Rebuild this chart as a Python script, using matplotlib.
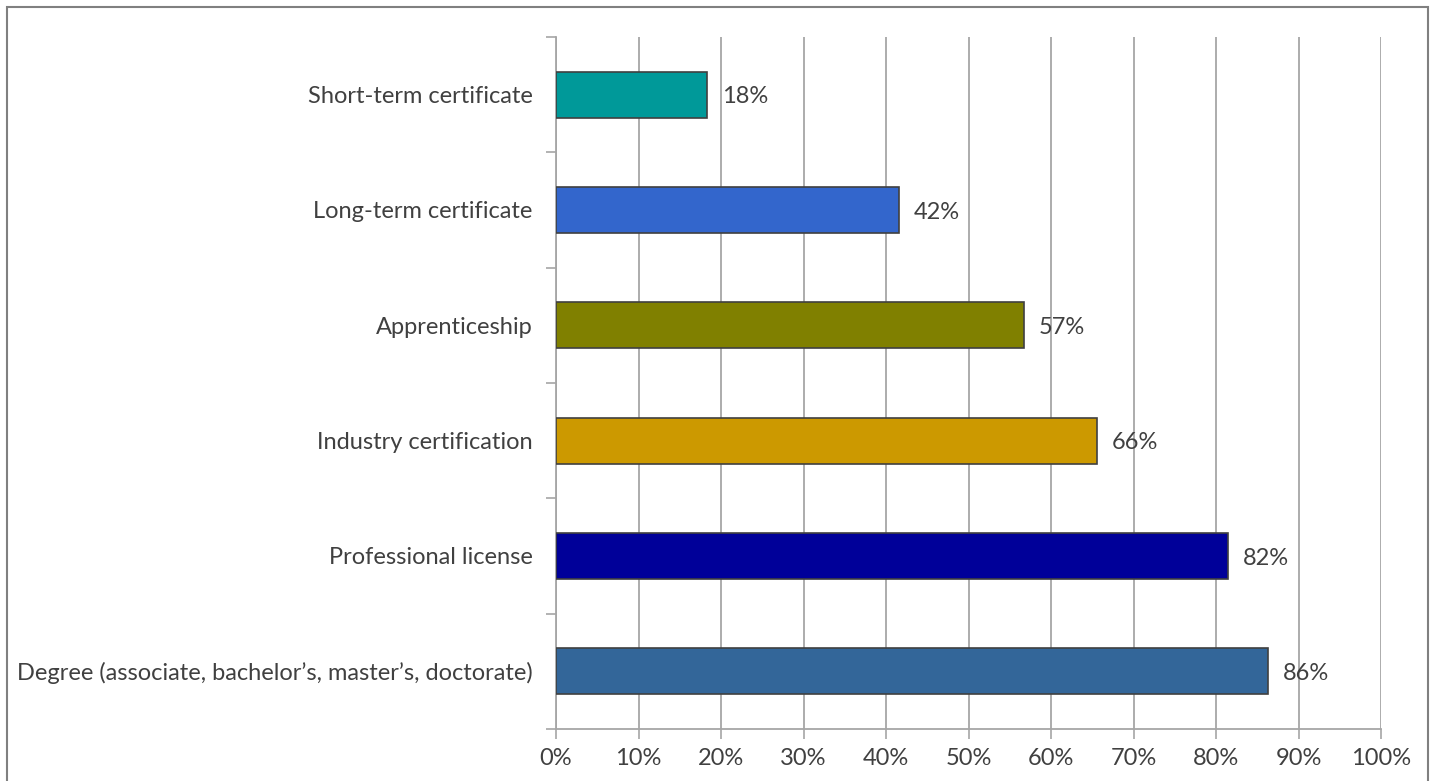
import matplotlib.pyplot as plt
from matplotlib.patches import Rectangle
from matplotlib.ticker import MultipleLocator, FuncFormatter

categories = ['Degree (associate, bachelor\u2019s, master\u2019s, doctorate)',
              'Professional license',
              'Industry certification',
              'Apprenticeship',
              'Long-term certificate',
              'Short-term certificate']
shares = [86.3, 81.5, 65.6, 56.7, 41.6, 18.3]
colors = ['#336699', '#000099', '#CC9900', '#808000', '#3366CC', '#009999']

plt.rcParams['font.family'] = ['Lato', 'DejaVu Sans']

W, H = 1434, 781
fig = plt.figure(figsize=(W / 100, H / 100), dpi=100)
ax = fig.add_axes([556 / W, 1 - 729 / H, (1381 - 556) / W, (729 - 37) / H])

pos = list(range(len(categories)))
ax.barh(pos, shares, height=0.4, color=colors, edgecolor='#404040', linewidth=1.2, zorder=3)
for y, v in zip(pos, shares):
    ax.text(v + 1.8, y - 0.02, f'{v:.0f}%', va='center', ha='left', fontsize=17, color='#404040')

ax.set_xlim(0, 100)
ax.set_ylim(-0.5, len(categories) - 0.5)
ax.xaxis.set_major_locator(MultipleLocator(10))
ax.xaxis.set_major_formatter(FuncFormatter(lambda x, _: f'{x:.0f}%'))
ax.grid(axis='x', color='#a6a6a6', linewidth=1.3, zorder=0)

# category labels sit between the boundary ticks
ax.set_yticks([p - 0.5 for p in pos] + [len(pos) - 0.5])
ax.set_yticklabels([])
ax.set_yticks(pos, minor=True)
ax.set_yticklabels(categories, minor=True, fontsize=17, color='#404040')
ax.tick_params(axis='y', which='minor', length=0, pad=17)
ax.tick_params(axis='y', which='major', length=7, color='#a6a6a6', width=1.2)
ax.tick_params(axis='x', length=7, color='#a6a6a6', width=1.2, labelsize=17,
               labelcolor='#404040', pad=7)

for side in ['top', 'right']:
    ax.spines[side].set_visible(False)
for side in ['left', 'bottom']:
    ax.spines[side].set_color('#a6a6a6')
    ax.spines[side].set_linewidth(1.3)

# outer chart frame
fig.patches.append(Rectangle((7 / W, -0.05), (1428 - 7) / W, 1 - 7 / H + 0.05,
                             transform=fig.transFigure, fill=False,
                             edgecolor='#808080', linewidth=1.5))

fig.savefig('out.png', dpi=100)
